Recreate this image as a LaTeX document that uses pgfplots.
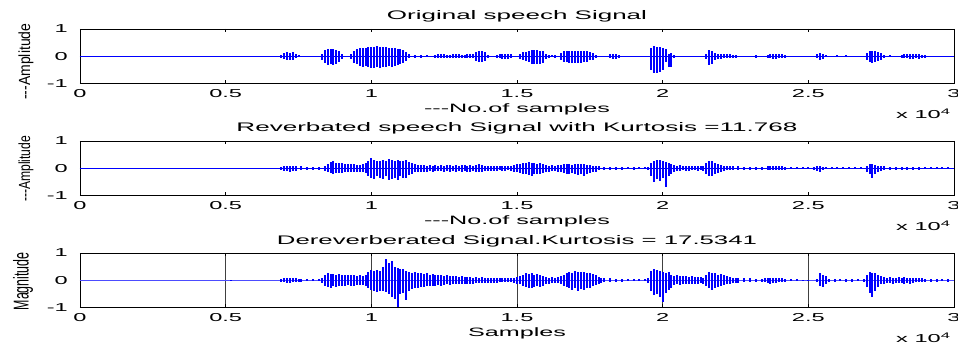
\documentclass[border=0pt]{standalone}
\usepackage{fontspec}
\setmainfont{Liberation Sans}
\usepackage{graphicx}
\usepackage{pgfplots}
\usepackage{pgfplotstable}
\pgfplotsset{compat=1.18}
\newcommand\sx[1]{\scalebox{2.05}[1]{#1}}
\pgfplotsset{sig/.style={
  scale only axis, width=874pt, height=54.5pt,
  xmin=0, xmax=3, ymin=-1, ymax=1,
  anchor=north west, clip mode=individual,
  axis line style={line width=0.8pt},
  every tick/.style={black, line width=0.6pt}, major tick length=3pt,
  xtick={0,0.5,1,1.5,2,2.5,3},
  xticklabels={\sx{0},\sx{0.5},\sx{1},\sx{1.5},\sx{2},\sx{2.5},\sx{3}},
  ytick={-1,0,1}, yticklabels={\sx{-1},\sx{0},\sx{1}},
  tick label style={font=\fontsize{11.5}{12}\selectfont, inner sep=0pt},
  xticklabel style={anchor=base, yshift=-14.3pt},
  yticklabel style={anchor=east, xshift=-12pt},
  title style={at={(0.5,1)}, anchor=base, yshift=3pt, inner sep=0pt},
  xlabel style={at={(0.5,0)}, anchor=base, yshift=-29pt, inner sep=0pt},
  ylabel style={anchor=center, inner sep=0pt},
  after end axis/.append code={
    \node[anchor=base west, inner sep=0pt, font=\fontsize{11.5}{12}\selectfont, yshift=-35pt, xshift=-58pt] at (rel axis cs:1,0) {\sx{x 10\textsuperscript{4}}};
  },
}}
\pgfplotsset{wave/.style={ycomb, blue, line width=2pt}}
% x in units of 10^4 samples; hi = upper excursion, lo = lower excursion
\pgfplotstableread{
x hi lo
0.05 0.02 -0.02
0.10 0.02 -0.02
0.15 0.02 -0.02
0.20 0.02 -0.02
0.25 0.02 -0.02
0.30 0.02 -0.02
0.35 0.02 -0.02
0.40 0.02 -0.02
0.45 0.02 -0.02
0.50 0.02 -0.02
0.55 0.02 -0.02
0.60 0.02 -0.02
0.65 0.02 -0.02
0.69 0.05 -0.06
0.70 0.12 -0.1
0.71 0.15 -0.14
0.72 0.13 -0.15
0.73 0.14 -0.12
0.74 0.1 -0.08
0.75 0.05 -0.04
0.83 0.1 -0.12
0.84 0.22 -0.25
0.85 0.25 -0.33
0.86 0.27 -0.3
0.87 0.25 -0.33
0.88 0.22 -0.28
0.89 0.2 -0.22
0.90 0.1 -0.1
0.93 0.08 -0.1
0.94 0.2 -0.25
0.95 0.28 -0.3
0.96 0.3 -0.35
0.97 0.32 -0.38
0.98 0.3 -0.36
0.99 0.33 -0.4
1.00 0.35 -0.42
1.01 0.34 -0.43
1.02 0.36 -0.4
1.03 0.35 -0.42
1.04 0.33 -0.4
1.05 0.34 -0.38
1.06 0.32 -0.37
1.07 0.3 -0.38
1.08 0.3 -0.35
1.09 0.28 -0.33
1.10 0.25 -0.3
1.11 0.22 -0.25
1.12 0.15 -0.18
1.13 0.08 -0.08
1.15 0.05 -0.05
1.17 0.04 -0.05
1.19 0.05 -0.04
1.22 0.06 -0.05
1.23 0.08 -0.07
1.24 0.07 -0.08
1.25 0.08 -0.06
1.26 0.06 -0.07
1.27 0.05 -0.06
1.28 0.07 -0.06
1.29 0.08 -0.08
1.30 0.07 -0.07
1.31 0.06 -0.05
1.32 0.05 -0.06
1.33 0.07 -0.07
1.34 0.08 -0.08
1.35 0.07 -0.06
1.36 0.15 -0.18
1.37 0.2 -0.22
1.38 0.2 -0.2
1.39 0.15 -0.18
1.40 0.06 -0.05
1.43 0.06 -0.05
1.44 0.1 -0.08
1.45 0.1 -0.1
1.46 0.1 -0.09
1.47 0.09 -0.1
1.48 0.08 -0.06
1.51 0.1 -0.1
1.52 0.15 -0.15
1.53 0.15 -0.18
1.54 0.2 -0.22
1.55 0.22 -0.3
1.56 0.22 -0.28
1.57 0.22 -0.3
1.58 0.2 -0.28
1.59 0.2 -0.25
1.60 0.1 -0.1
1.61 0.05 -0.05
1.62 0.04 -0.04
1.63 0.05 -0.05
1.65 0.12 -0.12
1.66 0.18 -0.2
1.67 0.2 -0.22
1.68 0.2 -0.25
1.69 0.2 -0.24
1.70 0.2 -0.25
1.71 0.21 -0.25
1.72 0.2 -0.23
1.73 0.2 -0.22
1.74 0.18 -0.2
1.75 0.15 -0.15
1.76 0.12 -0.12
1.77 0.06 -0.06
1.82 0.08 -0.08
1.83 0.1 -0.1
1.84 0.1 -0.1
1.85 0.06 -0.06
1.96 0.3 -0.5
1.97 0.37 -0.62
1.98 0.35 -0.6
1.99 0.35 -0.58
2.00 0.3 -0.5
2.01 0.25 -0.2
2.02 0.1 -0.4
2.03 0.12 -0.38
2.04 0.05 -0.05
2.15 0.1 -0.1
2.16 0.22 -0.33
2.17 0.2 -0.3
2.18 0.12 -0.15
2.19 0.1 -0.1
2.20 0.08 -0.1
2.21 0.1 -0.08
2.22 0.08 -0.08
2.23 0.08 -0.06
2.24 0.06 -0.06
2.25 0.05 -0.05
2.32 0.06 -0.05
2.36 0.06 -0.06
2.37 0.08 -0.08
2.38 0.09 -0.1
2.39 0.08 -0.09
2.40 0.08 -0.08
2.41 0.07 -0.07
2.42 0.05 -0.05
2.53 0.1 -0.08
2.54 0.12 -0.12
2.55 0.08 -0.1
2.56 0.04 -0.04
2.60 0.03 -0.03
2.63 0.03 -0.03
2.70 0.12 -0.15
2.71 0.2 -0.22
2.72 0.2 -0.25
2.73 0.18 -0.22
2.74 0.15 -0.18
2.75 0.12 -0.12
2.76 0.06 -0.06
2.78 0.03 -0.03
2.82 0.06 -0.06
2.83 0.08 -0.08
2.84 0.1 -0.08
2.85 0.1 -0.1
2.86 0.08 -0.1
2.87 0.07 -0.08
2.88 0.1 -0.1
2.89 0.06 -0.06
2.90 0.05 -0.05
}\orig
\pgfplotstableread{
x hi lo
0.05 0.02 -0.02
0.10 0.02 -0.02
0.15 0.02 -0.02
0.20 0.02 -0.02
0.25 0.02 -0.02
0.30 0.02 -0.02
0.35 0.02 -0.02
0.40 0.02 -0.02
0.45 0.02 -0.02
0.50 0.02 -0.02
0.55 0.02 -0.02
0.60 0.02 -0.02
0.65 0.02 -0.02
0.69 0.06 -0.06
0.70 0.08 -0.1
0.71 0.1 -0.1
0.72 0.1 -0.12
0.73 0.09 -0.1
0.74 0.08 -0.09
0.76 0.07 -0.06
0.78 0.06 -0.07
0.80 0.05 -0.06
0.82 0.06 -0.05
0.84 0.1 -0.1
0.85 0.15 -0.15
0.86 0.22 -0.18
0.87 0.25 -0.2
0.88 0.2 -0.18
0.89 0.18 -0.16
0.90 0.2 -0.18
0.91 0.17 -0.15
0.92 0.15 -0.14
0.93 0.14 -0.12
0.94 0.15 -0.13
0.95 0.12 -0.12
0.96 0.13 -0.12
0.97 0.15 -0.14
0.98 0.18 -0.18
0.99 0.25 -0.28
1.00 0.37 -0.35
1.01 0.3 -0.38
1.02 0.25 -0.3
1.03 0.28 -0.35
1.04 0.3 -0.4
1.05 0.28 -0.3
1.06 0.35 -0.42
1.07 0.3 -0.38
1.08 0.28 -0.35
1.09 0.3 -0.43
1.10 0.25 -0.3
1.11 0.28 -0.35
1.12 0.3 -0.35
1.13 0.22 -0.25
1.14 0.18 -0.2
1.15 0.15 -0.15
1.16 0.12 -0.14
1.17 0.13 -0.12
1.18 0.12 -0.13
1.19 0.1 -0.12
1.20 0.12 -0.1
1.21 0.1 -0.12
1.22 0.11 -0.1
1.23 0.1 -0.1
1.24 0.12 -0.11
1.25 0.1 -0.12
1.26 0.11 -0.1
1.27 0.12 -0.12
1.28 0.1 -0.1
1.29 0.12 -0.12
1.30 0.1 -0.11
1.31 0.11 -0.12
1.32 0.12 -0.1
1.33 0.1 -0.12
1.34 0.12 -0.12
1.35 0.1 -0.1
1.36 0.12 -0.12
1.37 0.14 -0.13
1.38 0.12 -0.12
1.39 0.1 -0.1
1.40 0.09 -0.1
1.41 0.1 -0.09
1.42 0.09 -0.1
1.43 0.1 -0.1
1.44 0.1 -0.08
1.45 0.09 -0.1
1.46 0.1 -0.09
1.47 0.08 -0.08
1.48 0.1 -0.1
1.49 0.12 -0.12
1.50 0.15 -0.15
1.51 0.15 -0.18
1.52 0.18 -0.2
1.53 0.2 -0.22
1.54 0.22 -0.25
1.55 0.2 -0.27
1.56 0.18 -0.2
1.57 0.15 -0.2
1.58 0.18 -0.22
1.59 0.15 -0.18
1.60 0.12 -0.12
1.61 0.1 -0.12
1.62 0.12 -0.1
1.63 0.1 -0.1
1.64 0.12 -0.12
1.65 0.12 -0.14
1.66 0.14 -0.16
1.67 0.15 -0.2
1.68 0.14 -0.22
1.69 0.13 -0.18
1.70 0.15 -0.2
1.71 0.14 -0.25
1.72 0.15 -0.22
1.73 0.14 -0.27
1.74 0.13 -0.2
1.75 0.12 -0.18
1.76 0.1 -0.15
1.77 0.1 -0.12
1.78 0.08 -0.08
1.80 0.06 -0.06
1.82 0.06 -0.05
1.84 0.06 -0.06
1.86 0.05 -0.05
1.88 0.05 -0.04
1.90 0.04 -0.05
1.92 0.04 -0.04
1.94 0.04 -0.04
1.95 0.06 -0.06
1.96 0.2 -0.3
1.97 0.28 -0.5
1.98 0.32 -0.4
1.99 0.3 -0.45
2.00 0.25 -0.35
2.01 0.22 -0.67
2.02 0.2 -0.3
2.03 0.15 -0.2
2.04 0.12 -0.12
2.05 0.1 -0.1
2.06 0.12 -0.1
2.07 0.1 -0.08
2.08 0.1 -0.1
2.09 0.08 -0.1
2.10 0.1 -0.08
2.11 0.08 -0.08
2.12 0.1 -0.1
2.13 0.08 -0.08
2.14 0.1 -0.1
2.15 0.2 -0.2
2.16 0.28 -0.3
2.17 0.25 -0.28
2.18 0.2 -0.22
2.19 0.15 -0.18
2.20 0.12 -0.12
2.21 0.1 -0.1
2.22 0.1 -0.08
2.23 0.08 -0.08
2.24 0.08 -0.07
2.26 0.07 -0.06
2.28 0.06 -0.06
2.30 0.06 -0.05
2.32 0.05 -0.06
2.34 0.06 -0.05
2.36 0.07 -0.07
2.37 0.08 -0.07
2.38 0.08 -0.08
2.39 0.07 -0.08
2.40 0.08 -0.07
2.41 0.07 -0.06
2.42 0.06 -0.05
2.44 0.04 -0.04
2.46 0.03 -0.03
2.48 0.03 -0.03
2.50 0.03 -0.03
2.52 0.05 -0.05
2.53 0.1 -0.1
2.54 0.08 -0.12
2.55 0.06 -0.08
2.56 0.04 -0.04
2.58 0.03 -0.03
2.60 0.03 -0.03
2.62 0.03 -0.03
2.64 0.03 -0.03
2.66 0.03 -0.03
2.68 0.03 -0.03
2.70 0.1 -0.12
2.71 0.15 -0.2
2.72 0.15 -0.35
2.73 0.12 -0.2
2.74 0.1 -0.15
2.75 0.08 -0.1
2.76 0.07 -0.08
2.78 0.06 -0.06
2.80 0.05 -0.06
2.82 0.06 -0.05
2.84 0.05 -0.06
2.86 0.06 -0.05
2.88 0.05 -0.05
2.90 0.04 -0.04
2.92 0.03 -0.03
2.94 0.03 -0.03
2.96 0.03 -0.03
2.98 0.03 -0.03
}\reverb
\pgfplotstableread{
x hi lo
0.52 0.02 -0.02
0.69 0.05 -0.05
0.70 0.1 -0.08
0.71 0.1 -0.1
0.72 0.08 -0.1
0.73 0.1 -0.08
0.74 0.08 -0.08
0.75 0.06 -0.07
0.76 0.05 -0.05
0.78 0.05 -0.04
0.80 0.04 -0.04
0.82 0.04 -0.04
0.83 0.1 -0.1
0.84 0.2 -0.2
0.85 0.25 -0.25
0.86 0.22 -0.27
0.87 0.24 -0.22
0.88 0.2 -0.25
0.89 0.22 -0.2
0.90 0.18 -0.22
0.91 0.2 -0.2
0.92 0.18 -0.18
0.93 0.2 -0.2
0.94 0.18 -0.2
0.95 0.16 -0.18
0.96 0.18 -0.16
0.97 0.15 -0.18
0.98 0.2 -0.2
0.99 0.3 -0.3
1.00 0.38 -0.35
1.01 0.35 -0.4
1.02 0.38 -0.44
1.03 0.35 -0.4
1.04 0.5 -0.38
1.05 0.77 -0.44
1.06 0.65 -0.5
1.07 0.72 -0.6
1.08 0.5 -0.7
1.09 0.45 -1.0
1.10 0.4 -0.5
1.11 0.42 -0.45
1.12 0.35 -0.72
1.13 0.32 -0.4
1.14 0.28 -0.32
1.15 0.3 -0.3
1.16 0.25 -0.28
1.17 0.28 -0.25
1.18 0.22 -0.25
1.19 0.25 -0.22
1.20 0.2 -0.22
1.21 0.22 -0.2
1.22 0.18 -0.2
1.23 0.2 -0.18
1.24 0.18 -0.2
1.25 0.15 -0.18
1.26 0.18 -0.15
1.27 0.15 -0.16
1.28 0.14 -0.15
1.29 0.15 -0.14
1.30 0.13 -0.15
1.31 0.14 -0.13
1.32 0.12 -0.14
1.33 0.13 -0.12
1.34 0.12 -0.12
1.35 0.1 -0.12
1.36 0.12 -0.1
1.37 0.1 -0.1
1.38 0.12 -0.1
1.39 0.1 -0.1
1.40 0.1 -0.09
1.41 0.09 -0.1
1.42 0.1 -0.1
1.43 0.08 -0.09
1.44 0.1 -0.08
1.45 0.08 -0.08
1.46 0.09 -0.08
1.47 0.08 -0.07
1.48 0.08 -0.08
1.49 0.1 -0.1
1.50 0.12 -0.12
1.51 0.15 -0.15
1.52 0.2 -0.22
1.53 0.25 -0.25
1.54 0.22 -0.3
1.55 0.25 -0.28
1.56 0.2 -0.25
1.57 0.22 -0.22
1.58 0.2 -0.25
1.59 0.15 -0.2
1.60 0.12 -0.12
1.61 0.1 -0.12
1.62 0.12 -0.1
1.63 0.1 -0.1
1.64 0.12 -0.1
1.65 0.15 -0.15
1.66 0.18 -0.2
1.67 0.25 -0.25
1.68 0.3 -0.3
1.69 0.28 -0.35
1.70 0.33 -0.3
1.71 0.3 -0.38
1.72 0.32 -0.32
1.73 0.3 -0.35
1.74 0.28 -0.3
1.75 0.25 -0.28
1.76 0.22 -0.22
1.77 0.18 -0.18
1.78 0.12 -0.12
1.79 0.08 -0.1
1.80 0.08 -0.07
1.82 0.07 -0.07
1.84 0.06 -0.05
1.86 0.05 -0.05
1.88 0.04 -0.04
1.90 0.04 -0.04
1.92 0.03 -0.03
1.94 0.04 -0.04
1.95 0.1 -0.1
1.96 0.35 -0.4
1.97 0.42 -0.55
1.98 0.38 -0.5
1.99 0.35 -0.6
2.00 0.3 -0.8
2.01 0.25 -0.45
2.02 0.3 -0.35
2.03 0.2 -0.3
2.04 0.15 -0.18
2.05 0.18 -0.15
2.06 0.15 -0.18
2.07 0.14 -0.15
2.08 0.15 -0.14
2.09 0.12 -0.15
2.10 0.14 -0.12
2.11 0.12 -0.12
2.12 0.13 -0.12
2.13 0.12 -0.1
2.14 0.1 -0.12
2.15 0.2 -0.2
2.16 0.3 -0.3
2.17 0.28 -0.35
2.18 0.25 -0.3
2.19 0.2 -0.25
2.20 0.22 -0.2
2.21 0.18 -0.18
2.22 0.15 -0.15
2.23 0.12 -0.12
2.24 0.1 -0.1
2.25 0.1 -0.1
2.26 0.08 -0.09
2.28 0.08 -0.08
2.30 0.07 -0.07
2.32 0.06 -0.06
2.34 0.06 -0.06
2.35 0.08 -0.08
2.36 0.1 -0.1
2.37 0.1 -0.12
2.38 0.1 -0.1
2.39 0.09 -0.1
2.40 0.1 -0.08
2.41 0.08 -0.08
2.42 0.06 -0.06
2.44 0.04 -0.04
2.46 0.03 -0.03
2.48 0.02 -0.02
2.50 0.02 -0.02
2.53 0.05 -0.05
2.54 0.25 -0.2
2.55 0.2 -0.25
2.56 0.15 -0.15
2.57 0.06 -0.06
2.59 0.05 -0.05
2.61 0.05 -0.04
2.63 0.05 -0.05
2.65 0.04 -0.05
2.67 0.05 -0.04
2.69 0.06 -0.06
2.70 0.2 -0.25
2.71 0.3 -0.45
2.72 0.28 -0.6
2.73 0.25 -0.4
2.74 0.2 -0.25
2.75 0.15 -0.15
2.76 0.12 -0.12
2.77 0.1 -0.1
2.78 0.12 -0.1
2.79 0.1 -0.12
2.80 0.1 -0.1
2.81 0.12 -0.1
2.82 0.1 -0.1
2.83 0.12 -0.12
2.84 0.1 -0.1
2.85 0.1 -0.12
2.86 0.08 -0.1
2.87 0.1 -0.08
2.88 0.08 -0.08
2.89 0.07 -0.07
2.90 0.06 -0.06
2.92 0.05 -0.05
2.94 0.05 -0.05
2.96 0.04 -0.04
2.98 0.05 -0.05
}\derev
\begin{document}
\begin{tikzpicture}
\path[use as bounding box] (0,0) rectangle (958pt,-347pt);
% ---------------- panel 1
\begin{axis}[sig, at={(80pt,-29pt)},
  title={\resizebox{260pt}{9pt}{Original speech Signal}},
  xlabel={\resizebox{186pt}{8.8pt}{-{}-{}-No.of samples}},
  ylabel={\resizebox*{76pt}{15pt}{-{}-{}-Amplitude}},
  ylabel style={at={(-0.0618,0.40)}}]
\addplot[blue, line width=0.8pt] coordinates {(0,0) (3,0)};
\addplot[wave] table[x=x, y=hi] {\orig};
\addplot[wave] table[x=x, y=lo] {\orig};
\end{axis}
% ---------------- panel 2
\begin{axis}[sig, at={(80pt,-141pt)},
  title={\resizebox{561pt}{9pt}{Reverbated speech Signal with Kurtosis =11.768}},
  xlabel={\resizebox{186pt}{8.8pt}{-{}-{}-No.of samples}},
  ylabel={\resizebox*{66pt}{15pt}{-{}-{}-Amplitude}},
  ylabel style={at={(-0.0618,0.49)}}]
\addplot[blue, line width=0.8pt] coordinates {(0,0) (3,0)};
\addplot[wave] table[x=x, y=hi] {\reverb};
\addplot[wave] table[x=x, y=lo] {\reverb};
\end{axis}
% ---------------- panel 3
\begin{axis}[sig, at={(80pt,-253pt)},
  xmajorgrids, major grid style={black!75, line width=0.6pt},
  title={\resizebox{480pt}{9pt}{Dereverberated Signal.Kurtosis = 17.5341}},
  xlabel={\resizebox{98pt}{8.8pt}{Samples}},
  ylabel={\resizebox*{58pt}{20pt}{Magnitude}},
  ylabel style={at={(-0.0652,0.48)}}]
\addplot[blue!70, line width=0.8pt] coordinates {(0,0) (3,0)};
\addplot[wave] table[x=x, y=hi] {\derev};
\addplot[wave] table[x=x, y=lo] {\derev};
\end{axis}
\end{tikzpicture}
\end{document}
